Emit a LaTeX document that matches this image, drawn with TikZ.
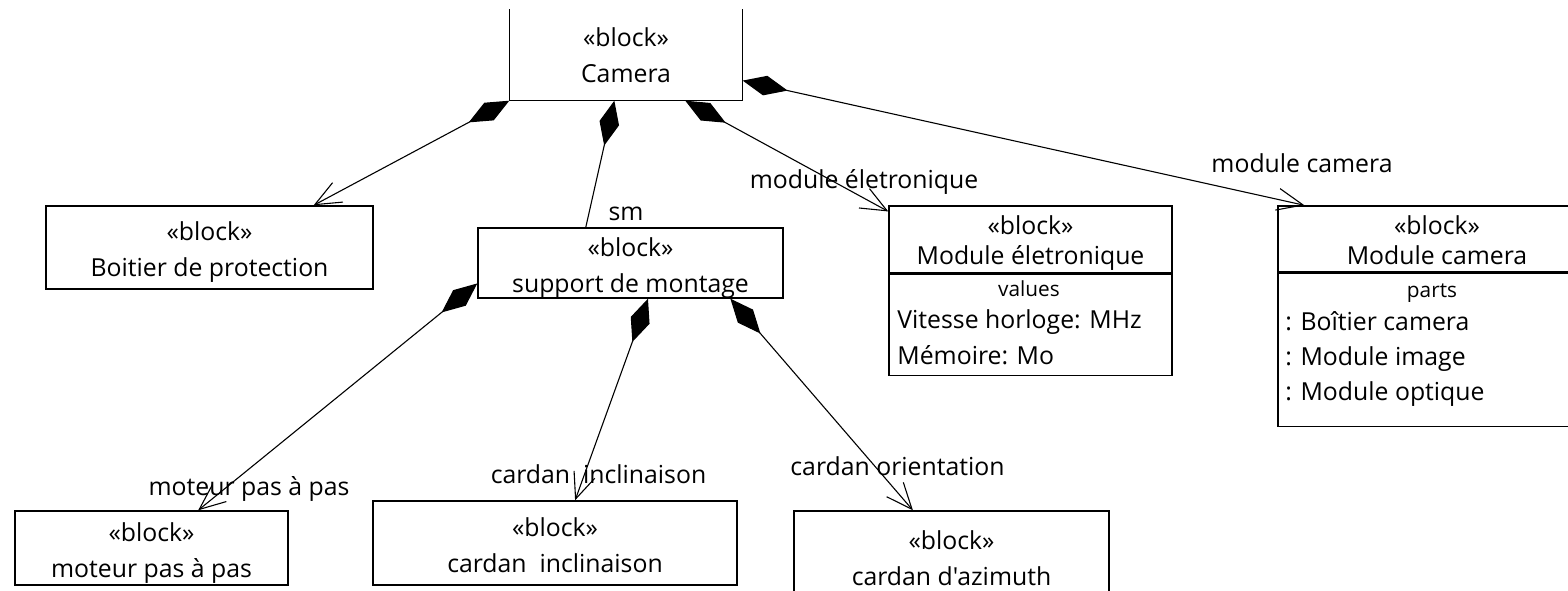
\documentclass[tikz,border=0pt]{standalone}
\usepackage{fontspec}
\setmainfont{Open Sans}[Ligatures=TeXOff]
\usetikzlibrary{arrows.meta,calc,positioning}

\tikzset{
  block/.style={shape=rectangle, draw=black, line width=0.7pt, inner sep=0pt, align=center, text height=32pt, text depth=3pt, font=\fontsize{12.4}{18}\selectfont},
  blockhead/.style={block, text height=28.3pt, text depth=3pt, font=\fontsize{12.4}{15}\selectfont},
  txt/.style={inner sep=0pt, anchor=mid, font=\fontsize{12.4}{18}\selectfont},
  comptitle/.style={txt, font=\fontsize{10.4}{12}\selectfont},
  compline/.style={txt, anchor=mid west},
  whole/.style={line width=0.55pt, arrows={Diamond[length=23pt,width=10pt]-Straight Barb[length=13pt,width=11pt]}},
  wholeonly/.style={line width=0.55pt, arrows={Diamond[length=23pt,width=10pt]-}}
}

\begin{document}
\begin{tikzpicture}[x=0.5pt, y=-0.5pt]
    \useasboundingbox (0,0) rectangle (1568,590);

    % blocks
    \node[block, draw=none, text height=30pt, minimum width=116pt, minimum height=45pt] (cam) at (626,55) {«block»\\Camera};
    \draw[line width=0.7pt] (cam.north west) -- (cam.south west) -- (cam.south east) -- (cam.north east);

    \node[block, minimum width=163.5pt, minimum height=41.5pt] (boit) at (209.5,247.5) {«block»\\Boitier de protection};
    \node[block, minimum width=152.5pt, minimum height=35pt] (sup) at (630.5,263) {«block»\\support de montage};
    \node[block, minimum width=136.5pt, minimum height=37pt] (mot) at (151.5,548) {«block»\\moteur pas à pas};
    \node[block, minimum width=182pt, minimum height=42pt] (ci) at (555,543) {«block»\\cardan~~inclinaison};
    \node[block, minimum width=157.5pt, minimum height=45pt] (ca) at (951.5,556) {«block»\\cardan d'azimuth};

    % blocks with compartments
    \node[blockhead, minimum width=141.5pt, minimum height=33.5pt] (me) at (1030.5,239.5) {«block»\\Module életronique};
    \node[block, minimum width=141.5pt, minimum height=50.5pt, below=0pt of me] (meval) {};
    \node[comptitle] (vals) at (1029,291) {values};
    \node[compline] (vit) at (897,323) {Vitesse horloge: MHz};
    \node[compline] (mem) at (897,359) {Mémoire: Mo};

    \node[blockhead, minimum width=159pt, minimum height=33pt] (mc) at (1437,239) {«block»\\Module camera};
    \node[block, minimum width=159pt, minimum height=76.5pt, below=0pt of mc] (mcparts) {};
    \node[comptitle] (parts) at (1432,292) {parts};
    \node[compline] (boitcam) at (1285,325) {: Boîtier camera};
    \node[compline] (modimg) at (1285,360) {: Module image};
    \node[compline] (modopt) at (1285,395) {: Module optique};

    % role names
    \node[txt] (lsm) at (626,215) {sm};
    \node[txt] (lme) at (864,183) {module életronique};
    \node[txt] (lmc) at (1302,167) {module camera};
    \node[txt] (lmot) at (249,490) {moteur pas à pas};
    \node[txt] (lci) at (598.5,478) {cardan~~inclinaison};
    \node[txt] (lca) at (897.5,470) {cardan orientation};

    % composition
    \draw[whole] (cam.south west) -- ($(boit.north west)!.817!(boit.north east)$);
    \draw[wholeonly] ($(cam.south west)!.45!(cam.south east)$) -- ($(sup.north west)!.354!(sup.north east)$);
    \draw[whole] ($(cam.south west)!.754!(cam.south east)$) -- ($(me.north west)!.09!(me.south west)$);
    \draw[whole] ($(cam.north east)!.78!(cam.south east)$) -- ($(mc.north west)!.085!(mc.north east)$);
    \draw[whole] ($(sup.north west)!.786!(sup.south west)$) -- ($(mot.north west)!.67!(mot.north east)$);
    \draw[whole] ($(sup.south west)!.557!(sup.south east)$) -- ($(ci.north west)!.555!(ci.north east)$);
    \draw[whole] ($(sup.south west)!.826!(sup.south east)$) -- ($(ca.north west)!.378!(ca.north east)$);
\end{tikzpicture}
\end{document}
